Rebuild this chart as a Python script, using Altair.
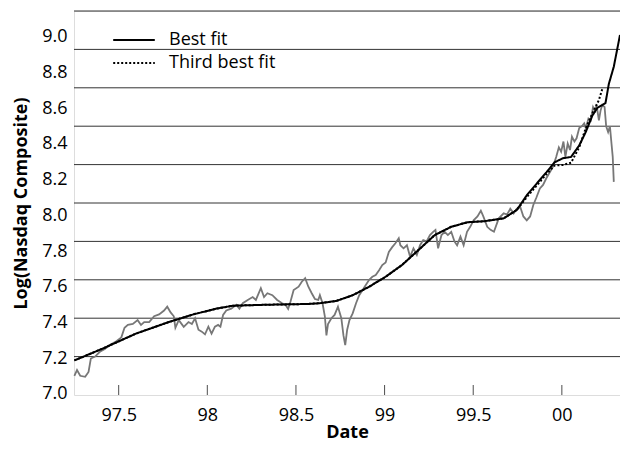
import altair as alt
import pandas as pd

# ---------------- data ----------------
nasdaq_date = [97.250, 97.265, 97.283, 97.311, 97.330, 97.343, 97.367, 97.394, 97.422, 97.450,
               97.487, 97.515, 97.533, 97.552, 97.580, 97.607, 97.626, 97.644, 97.672, 97.700,
               97.728, 97.756, 97.774, 97.793, 97.811, 97.820, 97.839, 97.867, 97.894, 97.913,
               97.931, 97.950, 97.969, 97.987, 98.006, 98.024, 98.043, 98.061, 98.074, 98.089,
               98.107, 98.135, 98.163, 98.181, 98.200, 98.228, 98.256, 98.274, 98.302, 98.320,
               98.339, 98.367, 98.394, 98.422, 98.441, 98.456, 98.469, 98.487, 98.515, 98.533,
               98.552, 98.570, 98.589, 98.607, 98.626, 98.635, 98.650, 98.663, 98.672, 98.681,
               98.700, 98.718, 98.737, 98.756, 98.768, 98.778, 98.789, 98.802, 98.820, 98.839,
               98.857, 98.876, 98.894, 98.913, 98.931, 98.950, 98.969, 98.987, 99.006, 99.024,
               99.043, 99.061, 99.080, 99.089, 99.107, 99.126, 99.144, 99.163, 99.182, 99.200,
               99.218, 99.237, 99.256, 99.274, 99.287, 99.302, 99.321, 99.339, 99.357, 99.376,
               99.394, 99.409, 99.428, 99.446, 99.465, 99.483, 99.502, 99.524, 99.543, 99.557,
               99.579, 99.598, 99.617, 99.644, 99.672, 99.691, 99.709, 99.728, 99.746, 99.765,
               99.783, 99.802, 99.821, 99.839, 99.857, 99.876, 99.894, 99.913, 99.932, 99.950,
               99.968, 99.983, 99.996, 100.009, 100.020, 100.033, 100.046, 100.057, 100.071, 100.083,
               100.098, 100.113, 100.126, 100.135, 100.150, 100.163, 100.176, 100.187, 100.196, 100.209,
               100.218, 100.228, 100.241, 100.250, 100.261, 100.271, 100.280, 100.287, 100.293]
nasdaq_log = [7.10, 7.13, 7.10, 7.095, 7.12, 7.19, 7.20, 7.225, 7.24, 7.26,
              7.28, 7.30, 7.35, 7.365, 7.37, 7.39, 7.365, 7.38, 7.38, 7.41,
              7.42, 7.44, 7.46, 7.43, 7.41, 7.35, 7.39, 7.355, 7.38, 7.37,
              7.40, 7.34, 7.33, 7.316, 7.356, 7.32, 7.356, 7.365, 7.356, 7.417,
              7.44, 7.45, 7.47, 7.45, 7.478, 7.495, 7.51, 7.495, 7.556, 7.51,
              7.53, 7.52, 7.495, 7.478, 7.47, 7.448, 7.486, 7.547, 7.564, 7.59,
              7.608, 7.564, 7.53, 7.50, 7.495, 7.52, 7.478, 7.41, 7.31, 7.37,
              7.40, 7.417, 7.46, 7.40, 7.31, 7.26, 7.34, 7.39, 7.425, 7.478,
              7.52, 7.547, 7.573, 7.60, 7.616, 7.625, 7.65, 7.677, 7.69, 7.745,
              7.77, 7.79, 7.816, 7.78, 7.764, 7.78, 7.72, 7.764, 7.73, 7.78,
              7.807, 7.80, 7.833, 7.85, 7.86, 7.764, 7.833, 7.85, 7.833, 7.85,
              7.80, 7.78, 7.825, 7.78, 7.85, 7.876, 7.91, 7.93, 7.96, 7.93,
              7.876, 7.86, 7.85, 7.92, 7.946, 7.94, 7.97, 7.946, 7.97, 7.98,
              7.93, 7.91, 7.93, 7.99, 8.03, 8.076, 8.094, 8.13, 8.16, 8.19,
              8.24, 8.29, 8.267, 8.32, 8.24, 8.31, 8.276, 8.345, 8.32, 8.337,
              8.39, 8.40, 8.415, 8.39, 8.44, 8.43, 8.50, 8.48, 8.51, 8.43,
              8.48, 8.51, 8.50, 8.40, 8.37, 8.40, 8.31, 8.24, 8.11]

best_date = [97.250, 97.413, 97.598, 97.783, 97.922, 98.052, 98.144, 98.329, 98.561, 98.635,
             98.728, 98.821, 98.913, 99.006, 99.098, 99.191, 99.283, 99.376, 99.468, 99.561,
             99.672, 99.746, 99.802, 99.857, 99.913, 99.959, 100.006, 100.052, 100.098, 100.135,
             100.172, 100.200, 100.228, 100.246, 100.265, 100.293, 100.328]
best_log = [7.180, 7.243, 7.320, 7.380, 7.420, 7.450, 7.465, 7.470, 7.474, 7.478,
            7.490, 7.520, 7.564, 7.616, 7.677, 7.755, 7.833, 7.876, 7.900, 7.905,
            7.920, 7.964, 8.040, 8.100, 8.160, 8.212, 8.233, 8.240, 8.300, 8.370,
            8.455, 8.495, 8.510, 8.520, 8.620, 8.710, 8.875]

third_date = [97.250, 97.413, 97.598, 97.783, 97.922, 98.052, 98.144, 98.329, 98.561, 98.635,
              98.728, 98.821, 98.913, 99.006, 99.098, 99.191, 99.283, 99.376, 99.468, 99.561,
              99.672, 99.746, 99.802, 99.857, 99.913, 99.959, 100.006, 100.052, 100.098, 100.135,
              100.172, 100.209, 100.230]
third_log = [7.180, 7.243, 7.320, 7.380, 7.420, 7.450, 7.465, 7.470, 7.474, 7.478,
             7.490, 7.520, 7.564, 7.616, 7.677, 7.755, 7.833, 7.876, 7.900, 7.905,
             7.920, 7.964, 8.030, 8.090, 8.150, 8.195, 8.198, 8.210, 8.290, 8.390,
             8.467, 8.536, 8.600]

series_names = ["Best fit", "Third best fit"]
x_ticks = [97.5, 98.0, 98.5, 99.0, 99.5, 100.0]
y_labels = [7.0, 7.2, 7.4, 7.6, 7.8, 8.0, 8.2, 8.4, 8.6, 8.8, 9.0]
grid_levels = [7.2, 7.4, 7.6, 7.8, 8.0, 8.2, 8.4, 8.6, 8.8, 9.0]

# ---------------- frames ----------------
df_nas = pd.DataFrame({"date": nasdaq_date, "value": nasdaq_log})
df_best = pd.DataFrame({"date": best_date, "value": best_log, "series": series_names[0]})
df_third = pd.DataFrame({"date": third_date, "value": third_log, "series": series_names[1]})
df_grid = pd.DataFrame({"value": grid_levels})
df_ticks = pd.DataFrame({"date": x_ticks, "value": [7.0] * len(x_ticks)})
df_lab = pd.DataFrame({"lab": y_labels})

FONT = "Open Sans"
X_DOM = [97.248, 100.328]
Y_DOM = [7.0, 9.0]

xscale = alt.Scale(domain=X_DOM, nice=False, zero=False)
yscale = alt.Scale(domain=Y_DOM, nice=False, zero=False)

x_axis = alt.Axis(values=x_ticks, ticks=False, grid=False, domain=False,
                  labelExpr="datum.value == 100 ? '00' : format(datum.value, '')",
                  labelFont=FONT, labelFontSize=18, labelColor="#000",
                  labelPadding=11, labelFlush=False,
                  title="Date", titleFont=FONT, titleFontSize=18, titleFontWeight="bold",
                  titleColor="#000", titleBaseline="middle", titleY=37)

grid = alt.Chart(df_grid).mark_rule(color="#333", strokeWidth=1).encode(
    y=alt.Y("value:Q", scale=yscale, axis=None)
)

nas = alt.Chart(df_nas).mark_line(color="#777", strokeWidth=1.8).encode(
    x=alt.X("date:Q", scale=xscale, axis=x_axis),
    y=alt.Y("value:Q", scale=yscale, axis=None),
)

dash_scale = alt.Scale(domain=series_names, range=[[1, 0], [2, 2]])
dash_legend = alt.Legend(
    title=None, orient="none", legendX=46, legendY=15, padding=0, rowPadding=0,
    symbolType="M-1.6,0H1.6", symbolSize=676, symbolStrokeWidth=1.8,
    symbolStrokeColor="#000", symbolFillColor="transparent",
    labelFont=FONT, labelFontSize=18, labelColor="#000", labelOffset=21,
    labelBaseline="middle",
)

third = alt.Chart(df_third).mark_line(color="#000", strokeWidth=2).encode(
    x=alt.X("date:Q", scale=xscale),
    y=alt.Y("value:Q", scale=yscale, axis=None),
    strokeDash=alt.StrokeDash("series:N", scale=dash_scale, legend=dash_legend),
)
best = alt.Chart(df_best).mark_line(color="#000", strokeWidth=2).encode(
    x=alt.X("date:Q", scale=xscale),
    y=alt.Y("value:Q", scale=yscale, axis=None),
    strokeDash=alt.StrokeDash("series:N", scale=dash_scale, legend=dash_legend),
)

ticks = alt.Chart(df_ticks).mark_tick(color="#000", size=10, thickness=1, yOffset=-5).encode(
    x=alt.X("date:Q", scale=xscale),
    y=alt.Y("value:Q", scale=yscale, axis=None),
)

labels = alt.Chart(df_lab).mark_point(opacity=0).encode(
    y=alt.Y("lab:Q", scale=alt.Scale(domain=[6.9944, 9.1439], nice=False, zero=False),
            axis=alt.Axis(orient="left", values=y_labels, format=".1f", ticks=False, grid=False,
                          domain=False, labelFont=FONT, labelFontSize=18, labelColor="#000",
                          labelPadding=7,
                          title="Log(Nasdaq Composite)", titleFont=FONT, titleFontSize=18,
                          titleFontWeight="bold", titleColor="#000",
                          titleX=-53, titleY=192, titleBaseline="middle", titleAngle=-90)),
)

chart = alt.layer(grid, nas, third, best, ticks, labels).resolve_scale(
    y="independent"
).properties(
    width=546, height=384,
    autosize=alt.AutoSizeParams(type="none"),
    padding={"left": 66, "top": 3, "right": 0, "bottom": 47},
).configure_view(stroke="#000", strokeWidth=1.5).configure(background="white")

chart.save("out.html", embed_options={"renderer": "svg", "actions": False})
